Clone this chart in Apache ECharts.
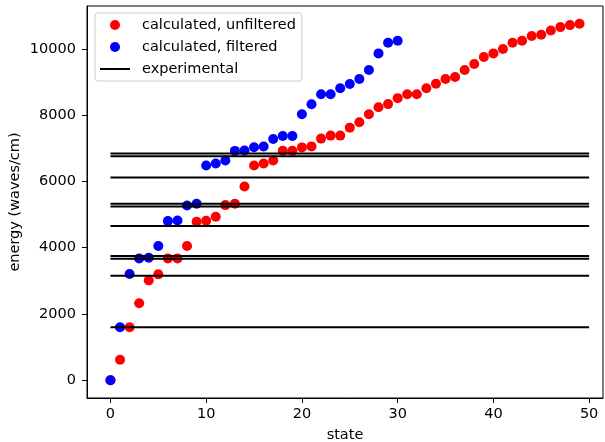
<!DOCTYPE html>
<html>
<head>
<meta charset="utf-8">
<script src="https://cdn.jsdelivr.net/npm/echarts@6/dist/echarts.min.js"></script>
<style>
  html, body { margin: 0; padding: 0; background: #fff; }
  #main { width: 605px; height: 442px; }
</style>
</head>
<body>
<div id="main"></div>
<script>
// energies, index = state
var unfiltered = [0, 614, 1597, 2319, 3012, 3193, 3675, 3675, 4048, 4780,
  4810, 4930, 5283, 5322, 5845, 6477, 6537, 6627, 6922, 6922,
  7024, 7054, 7289, 7380, 7380, 7620, 7783, 8024, 8235, 8330,
  8510, 8627, 8627, 8807, 8946, 9087, 9148, 9358, 9539, 9750,
  9861, 9991, 10181, 10241, 10383, 10422, 10554, 10654, 10714, 10753];
var filtered = [0, 1597, 3205, 3675, 3696, 4048, 4800, 4820, 5271, 5322,
  6477, 6537, 6627, 6919, 6930, 7030, 7050, 7280, 7370, 7370,
  8024, 8325, 8627, 8627, 8807, 8937, 9087, 9358, 9861, 10181, 10241];
var experimental = [1596, 3151, 3666, 3747, 4651, 5241, 5322, 6114, 6759, 6837];
var expStart = 0, expEnd = 50;

var xTicks = [0, 10, 20, 30, 40, 50];
var yTicks = [0, 2000, 4000, 6000, 8000, 10000];

var toPoints = function (arr) {
  return arr.map(function (v, i) { return [i, v]; });
};

// one line series, segments split by empty points
var expData = [];
experimental.forEach(function (v) {
  expData.push([expStart, v], [expEnd, v], [expEnd, '-']);
});

var font = 'DejaVu Sans';
var fs = 14.5;
var chart = echarts.init(document.getElementById('main'), null, { renderer: 'canvas' });

var option = {
  animation: false,
  textStyle: { fontFamily: font },
  grid: {
    left: 87, right: 2, top: 6, bottom: 44,
    outerBoundsMode: 'none',
    containLabel: false,
    show: true, borderColor: '#000', borderWidth: 1
  },
  legend: {
    orient: 'vertical',
    left: 95, top: 13,
    padding: [4, 6, 4, 5],
    itemGap: 6,
    itemWidth: 30, itemHeight: 10,
    backgroundColor: 'rgba(255,255,255,0.8)',
    borderColor: '#cccccc', borderWidth: 1, borderRadius: 3,
    textStyle: { fontFamily: font, fontSize: fs, color: '#000', lineHeight: 16, padding: [0, 0, 0, 7] },
    data: [
      { name: 'calculated, unfiltered', icon: 'circle' },
      { name: 'calculated, filtered', icon: 'circle' },
      { name: 'experimental', icon: 'path://M0,4 L30,4 L30,6 L0,6 Z' }
    ]
  },
  xAxis: {
    type: 'value',
    min: -2.45, max: 51.45,
    name: 'state', nameLocation: 'middle', nameGap: 30,
    nameMoveOverlap: false,
    nameTextStyle: { fontFamily: font, fontSize: fs, color: '#000' },
    axisLine: { show: true, onZero: false, lineStyle: { color: '#000', width: 1 } },
    axisTick: { show: true, length: 5, lineStyle: { color: '#000' }, customValues: xTicks },
    axisLabel: { fontFamily: font, fontSize: fs, color: '#000', margin: 9, customValues: xTicks },
    splitLine: { show: false }
  },
  yAxis: {
    type: 'value',
    min: -537.65, max: 11290.65,
    name: 'energy (waves/cm)', nameLocation: 'middle', nameGap: 64,
    nameMoveOverlap: false,
    nameTextStyle: { fontFamily: font, fontSize: fs, color: '#000' },
    axisLine: { show: true, onZero: false, lineStyle: { color: '#000', width: 1 } },
    axisTick: { show: true, length: 5, lineStyle: { color: '#000' }, customValues: yTicks },
    axisLabel: {
      fontFamily: font, fontSize: fs, color: '#000', margin: 11, customValues: yTicks,
      formatter: function (v) { return String(v); }
    },
    splitLine: { show: false }
  },
  series: [
    {
      name: 'calculated, unfiltered',
      type: 'scatter',
      data: toPoints(unfiltered),
      symbolSize: 10,
      itemStyle: { color: '#ff0000', opacity: 1 },
      z: 2
    },
    {
      name: 'calculated, filtered',
      type: 'scatter',
      data: toPoints(filtered),
      symbolSize: 10,
      itemStyle: { color: '#0000ff', opacity: 1 },
      z: 3
    },
    {
      name: 'experimental',
      type: 'line',
      data: expData,
      symbol: 'none',
      connectNulls: false,
      lineStyle: { color: '#000', width: 2 },
      itemStyle: { color: '#000' },
      z: 4
    }
  ]
};

chart.setOption(option);
</script>
</body>
</html>
